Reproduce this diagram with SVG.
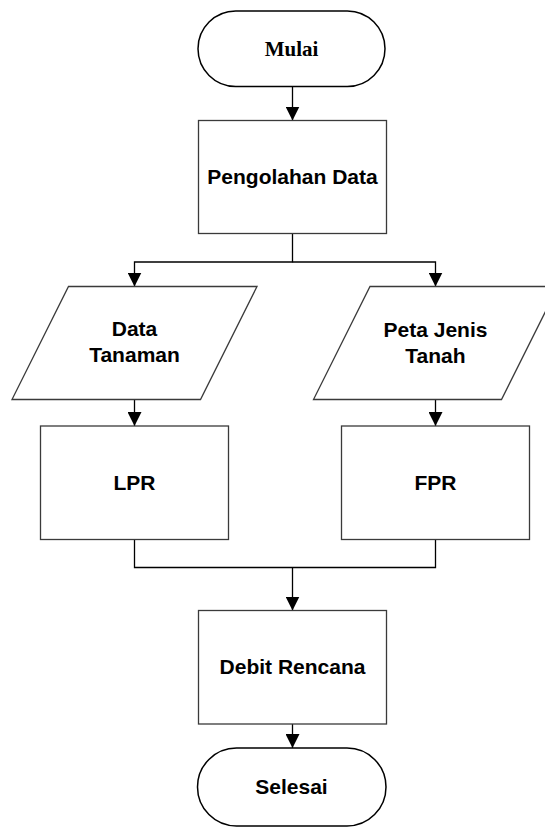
<svg xmlns="http://www.w3.org/2000/svg" width="545" height="828" viewBox="0 0 545 828">
  <style>
    .box { fill: #ffffff; stroke: #3a3a3a; stroke-width: 1.3; }
    .term { fill: #ffffff; stroke: #000000; stroke-width: 1.5; }
    .conn { fill: none; stroke: #000000; stroke-width: 1.3; }
    .lbl { font-family: "Liberation Sans", Arial, sans-serif; font-weight: bold; font-size: 21px; fill: #000000; text-anchor: middle; }
    .serif { font-family: "Liberation Serif", "Times New Roman", serif; font-weight: bold; font-size: 21px; fill: #000000; text-anchor: middle; }
  </style>
  <defs>
    <marker id="arrow" markerUnits="userSpaceOnUse" markerWidth="14" markerHeight="14" refX="14" refY="7" orient="auto">
      <path d="M0,0 L14,7 L0,14 z" fill="#000000"/>
    </marker>
  </defs>
  <rect x="0" y="0" width="545" height="828" fill="#ffffff"/>

  <g id="connectors">
    <line class="conn" x1="292.5" y1="86.5" x2="292.5" y2="120.5" marker-end="url(#arrow)"/>
    <polyline class="conn" points="292.5,233.5 292.5,262 134.5,262 134.5,286.5" marker-end="url(#arrow)"/>
    <polyline class="conn" points="292.5,262 435.5,262 435.5,286.5" marker-end="url(#arrow)"/>
    <line class="conn" x1="134.5" y1="399.5" x2="134.5" y2="426" marker-end="url(#arrow)"/>
    <line class="conn" x1="435.5" y1="399.5" x2="435.5" y2="426" marker-end="url(#arrow)"/>
    <polyline class="conn" points="134.5,539.5 134.5,567.5 435.5,567.5 435.5,539.5"/>
    <line class="conn" x1="292.5" y1="567.5" x2="292.5" y2="610.5" marker-end="url(#arrow)"/>
    <line class="conn" x1="292.5" y1="724" x2="292.5" y2="748" marker-end="url(#arrow)"/>
  </g>

  <g id="mulai">
    <rect class="term" x="198" y="11" width="187" height="75.5" rx="37.7" ry="37.7"/>
    <text class="serif" x="291.5" y="56">Mulai</text>
  </g>

  <g id="pengolahan">
    <rect class="box" x="198.5" y="120.5" width="188" height="113"/>
    <text class="lbl" x="292.5" y="184">Pengolahan Data</text>
  </g>

  <g id="data-tanaman">
    <polygon class="box" points="68.5,286.5 257,286.5 200.5,399.5 12,399.5"/>
    <text class="lbl" x="134.5" y="336">Data</text>
    <text class="lbl" x="134.5" y="361.5">Tanaman</text>
  </g>

  <g id="peta-jenis-tanah">
    <polygon class="box" points="370,286.5 558,286.5 501.5,399.5 313.5,399.5"/>
    <text class="lbl" x="435.5" y="337">Peta Jenis</text>
    <text class="lbl" x="435.5" y="362.5">Tanah</text>
  </g>

  <g id="lpr">
    <rect class="box" x="40.5" y="426" width="188" height="113.5"/>
    <text class="lbl" x="134.5" y="490">LPR</text>
  </g>

  <g id="fpr">
    <rect class="box" x="341.5" y="426" width="188" height="113.5"/>
    <text class="lbl" x="435.5" y="490">FPR</text>
  </g>

  <g id="debit">
    <rect class="box" x="198.5" y="610.5" width="188" height="113.5"/>
    <text class="lbl" x="292.5" y="674">Debit Rencana</text>
  </g>

  <g id="selesai">
    <rect class="term" x="197.5" y="748" width="188.5" height="78" rx="39" ry="39"/>
    <text class="lbl" x="291.5" y="794">Selesai</text>
  </g>
</svg>
